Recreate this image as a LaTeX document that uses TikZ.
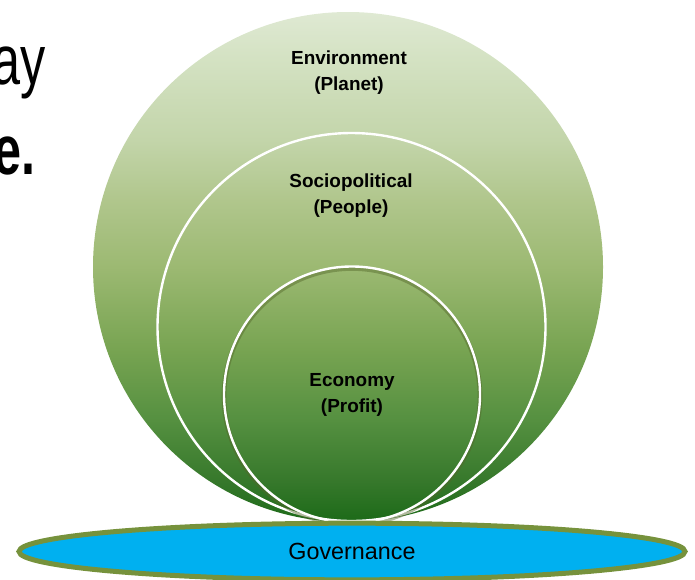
\documentclass[tikz,border=0pt]{standalone}
\usepackage{fontspec}
\setmainfont{Liberation Sans}
\usetikzlibrary{shapes.geometric}

\definecolor{govblue}{HTML}{00B0F0}
\definecolor{govrim}{HTML}{76923C}
\definecolor{leaf0}{HTML}{1C6A18}
\definecolor{leaf1}{HTML}{36782B}
\definecolor{leaf2}{HTML}{559040}
\definecolor{leaf3}{HTML}{78A452}
\definecolor{leaf4}{HTML}{9CB972}
\definecolor{leaf5}{HTML}{B0C68C}
\definecolor{leaf6}{HTML}{C3D5AA}
\definecolor{leaf7}{HTML}{D4E2C3}
\definecolor{leaf8}{HTML}{DFE9D3}
\pgfdeclareverticalshading{leafshade}{100bp}{color(0bp)=(leaf0); color(25bp)=(leaf0);
  color(29bp)=(leaf1); color(35bp)=(leaf2); color(42bp)=(leaf3); color(50bp)=(leaf4);
  color(56.5bp)=(leaf5); color(62.5bp)=(leaf6); color(70.5bp)=(leaf7); color(75bp)=(leaf8);
  color(100bp)=(leaf8)}

\begin{document}
\begin{tikzpicture} [x=0.75pt, y=-0.75pt,
  ring/.style={circle, draw=white, line width=1.8pt, inner sep=0pt},
  lbl/.style={align=center, font=\bfseries\fontsize{14.2}{19.5}\selectfont},
  big/.style={anchor=base east, inner sep=0pt, xscale=0.72, font=\fontsize{52.5}{52.5}\selectfont},
  bigbold/.style={big, font=\bfseries\fontsize{52.5}{52.5}\selectfont}]
\useasboundingbox (0,0) rectangle (695,579);

% slide text cut off by the crop
\node [big] (ay) at (46,84) {ay};
\node [bigbold] (edot) at (36,174) {e.};
\node [bigbold] (ycomma) at (458,-15) {y,};

% nested circles
\node [circle, shading=leafshade, minimum size=382.5pt, inner sep=0pt] (planet) at (348,267) {};
\node [ring, minimum size=291pt] (people) at (351.5,327) {};
\node [ring, minimum size=192pt,
  preaction={draw=govrim!70!black, line width=3.5pt, opacity=.45, transform canvas={yshift=-1.5pt}}]
  (profit) at (352,394.5) {};

\node [lbl] (planettext) at (349,73) {Environment\\(Planet)};
\node [lbl] (peopletext) at (351,196) {Sociopolitical\\(People)};
\node [lbl] (profittext) at (profit) {Economy\\(Profit)};

% base
\node [ellipse, draw=govrim, line width=3.75pt, fill=govblue, minimum width=499.5pt,
  minimum height=42.5pt, font=\fontsize{17.5}{20}\selectfont] (gov) at (352,551.5) {Governance};
\end{tikzpicture}
\end{document}
